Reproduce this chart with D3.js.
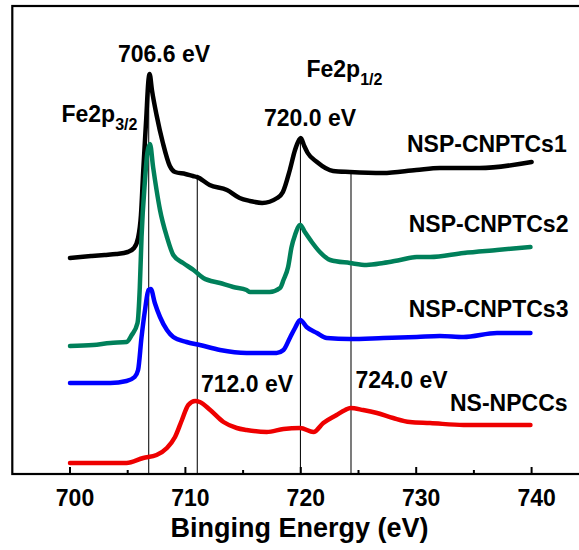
<!DOCTYPE html>
<html>
<head>
<script src="https://d3js.org/d3.v7.min.js"></script>
<style>
  body { margin: 0; background: #fff; }
  text { font-family: "Liberation Sans", Arial, sans-serif; font-weight: bold; fill: #000; }
</style>
</head>
<body>
<div id="viz"></div>
<script type="text/javascript">
    // XPS Fe 2p spectra, [binding energy (eV), intensity (a.u.)]
    var black = [[700.0,216],[700.9,217],[701.9,218],[703.0,219],[704.0,220],[705.0,222],[705.55,226],
        [705.9,236],[706.15,259],[706.35,304],[706.6,354],[706.8,394],[706.9,400],[707.1,384],[707.5,359],
        [708.05,331],[708.65,308],[709.1,302],[710.0,300],[710.65,298],[711.0,297],[712.1,289],[713.6,284],
        [714.7,276],[715.6,273],[716.65,271],[717.95,276],[718.45,282],[719.05,304],[719.5,324],[719.85,334],
        [720.0,336],[720.3,328],[720.6,321],[721.4,312],[722.8,303],[724.25,302],[727.1,301],[730.0,304],
        [732.05,306],[735.5,306],[740.0,312]];
    var green = [[700.0,128],[702.0,129],[703.5,131],[704.9,132],[705.35,139],[705.85,151],[706.05,187],
        [706.2,237],[706.5,294],[706.7,321],[706.93,330],[707.2,307],[707.5,284],[707.8,264],[708.4,237],
        [708.95,219],[709.8,211],[710.7,204],[711.55,196],[713.0,191],[714.15,187],[715.3,184],[715.6,182],
        [717.3,182],[718.2,186],[718.5,194],[718.9,207],[719.2,227],[719.5,239],[719.95,249],[720.35,242],
        [720.95,232],[721.65,222],[722.55,214],[724.25,211],[725.7,209],[727.15,211],[728.6,214],[730.05,217],
        [731.2,217],[734.1,221],[737.0,224],[739.9,227]];
    var blue = [[700.0,91],[702.0,91],[703.5,91],[704.9,93],[705.6,97],[705.9,104],[706.2,137],[706.5,164],
        [706.8,184],[707.0,185],[707.35,171],[707.8,157],[708.4,144],[708.95,137],[710.1,132],[711.25,129],
        [713.0,124],[715.3,121],[717.9,121],[718.5,124],[719.05,136],[719.5,146],[719.95,154],[720.5,147],
        [721.4,141],[722.25,136],[724.25,135],[727.15,136],[730.05,137],[732.05,138],[734.1,137],[737.0,141],
        [739.9,141]];
    var red = [[700.0,11],[702.0,11],[703.5,11],[704.9,11],[706.35,16],[707.5,19],[708.4,26],[709.1,37],
        [709.7,54],[710.25,69],[710.85,73],[711.25,72],[712.15,64],[713.3,52],[714.45,46],[715.3,44],
        [717.05,42],[718.5,45],[719.95,46],[721.1,42],[721.95,51],[723.1,59],[723.85,64],[724.3,66],
        [725.4,64],[726.6,61],[728.0,56],[729.45,52],[731.2,51],[734.1,49],[737.0,49],[739.9,49]];

    var seriesNames = ["NSP-CNPTCs1", "NSP-CNPTCs2", "NSP-CNPTCs3", "NS-NPCCs"];
    var seriesData = [black, green, blue, red];
    var seriesColors = ["#000000", "#00805a", "#0000ff", "#ee0000"];

    // reference lines: energy, height (reaches the top trace)
    var refLines = [[706.82, 398], [711.03, 297], [719.97, 334], [724.35, 301]];

    var majorTicks = [700, 710, 720, 730, 740];
    var minorTicks = [705, 715, 725, 735];

    var width = 579, height = 550;
    var margin = {left: 12.3, top: 6, bottom: 474};

    var x = d3.scaleLinear().domain([695, 750]).range([margin.left, margin.left + 55 * 11.54]);
    var y = d3.scaleLinear().domain([0, 468]).range([margin.bottom, margin.top]);

    var svg = d3.select("#viz").append("svg")
        .attr("width", width)
        .attr("height", height);

    // reference lines
    svg.selectAll(".ref").data(refLines).enter().append("line")
        .attr("x1", function(d){ return x(d[0]); })
        .attr("x2", function(d){ return x(d[0]); })
        .attr("y1", y(0))
        .attr("y2", function(d){ return y(d[1]); })
        .style("stroke", "#111")
        .style("stroke-width", 1.1);

    var line = d3.line()
        .curve(d3.curveMonotoneX)
        .x(function(d){ return x(d[0]); })
        .y(function(d){ return y(d[1]); });

    svg.selectAll(".trace").data(seriesData).enter().append("path")
        .attr("d", line)
        .style("fill", "none")
        .style("stroke", function(d, i){ return seriesColors[i]; })
        .style("stroke-width", 4.5)
        .style("stroke-linejoin", "round")
        .style("stroke-linecap", "round");

    // frame (right edge sits outside the picture)
    svg.append("rect")
        .attr("x", x(695)).attr("y", y(468))
        .attr("width", x(750) - x(695)).attr("height", y(0) - y(468))
        .style("fill", "none").style("stroke", "#000").style("stroke-width", 2.2);

    // inward ticks on bottom axis
    svg.selectAll(".major").data(majorTicks).enter().append("line")
        .attr("x1", function(d){ return x(d); }).attr("x2", function(d){ return x(d); })
        .attr("y1", y(0)).attr("y2", y(0) - 7)
        .style("stroke", "#000").style("stroke-width", 2);
    svg.selectAll(".minor").data(minorTicks).enter().append("line")
        .attr("x1", function(d){ return x(d); }).attr("x2", function(d){ return x(d); })
        .attr("y1", y(0)).attr("y2", y(0) - 4)
        .style("stroke", "#000").style("stroke-width", 2);

    svg.selectAll(".ticklabel").data(majorTicks).enter().append("text")
        .attr("x", function(d){ return x(d) + 5; })
        .attr("y", 505.5)
        .attr("text-anchor", "middle")
        .style("font-size", "23px")
        .text(function(d){ return d; });

    svg.append("text")
        .attr("x", 299.5).attr("y", 536.5)
        .attr("text-anchor", "middle")
        .style("font-size", "27px")
        .text("Binging Energy (eV)");

    // series names
    var nameX = [729.2, 729.35, 729.35, 732.93];
    var nameY = [322, 242, 157, 63];
    svg.selectAll(".name").data(seriesNames).enter().append("text")
        .attr("x", function(d, i){ return x(nameX[i]); })
        .attr("y", function(d, i){ return y(nameY[i]); })
        .style("font-size", "23px")
        .text(function(d){ return d; });

    // peak annotations
    var peakLabels = ["706.6 eV", "720.0 eV", "712.0 eV", "724.0 eV"];
    var peakX = [704.16, 716.81, 711.35, 724.74];
    var peakY = [412, 348, 82, 86];
    svg.selectAll(".peak").data(peakLabels).enter().append("text")
        .attr("x", function(d, i){ return x(peakX[i]); })
        .attr("y", function(d, i){ return y(peakY[i]); })
        .style("font-size", "23px")
        .text(function(d){ return d; });

    var orbitals = [["3/2", 699.26, 352], ["1/2", 720.49, 397]];
    orbitals.forEach(function(o){
        var t = svg.append("text")
            .attr("x", x(o[1])).attr("y", y(o[2]))
            .style("font-size", "23px");
        t.append("tspan").text("Fe2p");
        t.append("tspan").attr("dy", 8).style("font-size", "16px").text(o[0]);
    });
</script>
</body>
</html>
